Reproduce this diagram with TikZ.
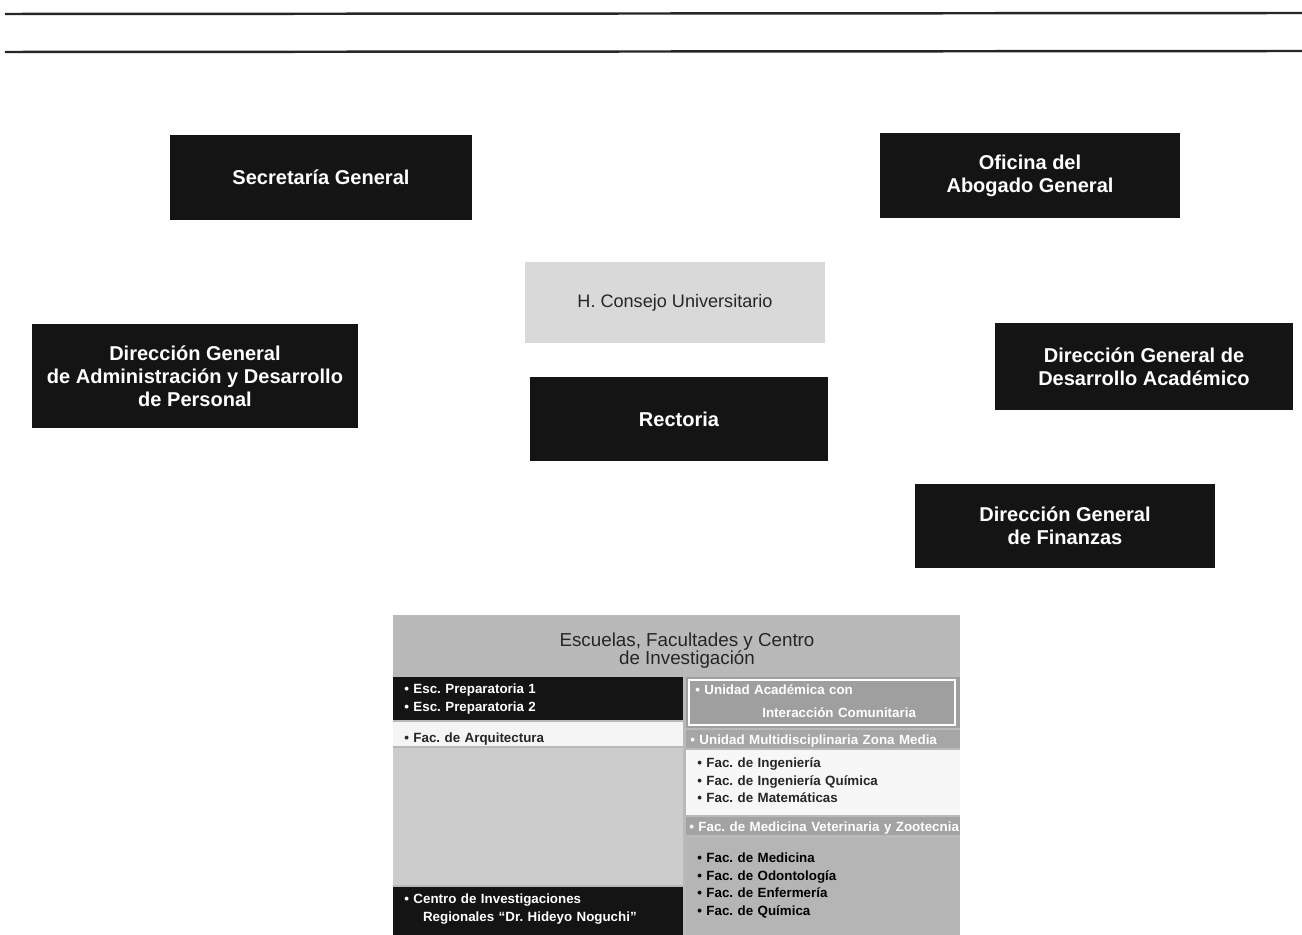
\documentclass[tikz,border=0pt]{standalone}
\usepackage{fontspec}
\setmainfont{Liberation Sans}
\usetikzlibrary{positioning}
\frenchspacing

\begin{document}
\begin{tikzpicture}[
    x = 0.02cm, y = -0.02cm, % pixel grid of the page
    node distance = -1.5pt, % list items sit close
    darkbox/.style = {
        fill = black!92,
        text = white,
        align = center,
        font = \fontsize{11.4}{13}\selectfont\bfseries
    },
    lightbox/.style = {
        fill = gray!30,
        text = black!85,
        align = center,
        font = \fontsize{10.3}{12}\selectfont
    },
    item/.style = {
        text width = 5.2cm,
        align = left,
        inner sep = 0pt,
        text height = 1.65ex,
        text depth = 0.45ex,
        minimum height = 0.35cm,
        font = \fontsize{7.6}{9.8}\selectfont\bfseries
    }
    ]

    \useasboundingbox[fill=white] (0,0) rectangle (1302,935);

    % header rules
    \draw[line width=1.4pt, black!85] (5,14) -- (1302,13);
    \draw[line width=1.4pt, black!85] (5,52) -- (1302,51);

    % upper boxes
    \node[darkbox, minimum width=6.04cm, minimum height=1.7cm] (sg) at (321,177.5) {Secretaría General};
    \node[darkbox, minimum width=6cm, minimum height=1.7cm] (oag) at (1030,175.5) {Oficina del\\Abogado General};
    \node[lightbox, minimum width=6cm, minimum height=1.62cm] (hcu) at (675,302.5) {H. Consejo Universitario};
    \node[darkbox, minimum width=6.52cm, minimum height=2.08cm] (dgadp) at (195,376) {Dirección General\\de Administración y Desarrollo\\de Personal};
    \node[darkbox, minimum width=5.96cm, minimum height=1.68cm] (rect) at (679,419) {Rectoria};
    \node[darkbox, minimum width=5.96cm, minimum height=1.74cm] (dgda) at (1144,366.5) {Dirección General de\\Desarrollo Académico};
    \node[darkbox, minimum width=6cm, minimum height=1.68cm] (dgf) at (1065,526) {Dirección General\\de Finanzas};

    % schools panel
    \begin{scope}
        \clip (393,615) rectangle (960,935);
        \fill[gray!55] (393,615) rectangle (960,935);
        \node[align=center, text=black!85, font=\fontsize{10.7}{10.4}\selectfont] (title) at (687,651) {Escuelas, Facultades y Centro\\de Investigación};

        % left column
        \fill[black!92] (393,677) rectangle (683,720);
        \fill[gray!8] (393,722) rectangle (683,746);
        \fill[gray!40] (393,748) rectangle (683,885);
        \fill[black!92] (393,887) rectangle (683,935);
        \node[item, text=white, anchor=west] (prep1) at (404,688) {• Esc. Preparatoria 1};
        \node[item, text=white, below=of prep1] (prep2) {• Esc. Preparatoria 2};
        \node[item, text=black!85, anchor=west] (arq) at (404,737) {• Fac. de Arquitectura};
        \node[item, text=white, anchor=west] (cin) at (404,898) {• Centro de Investigaciones};
        \node[item, text=white, below=of cin] (cin2) {\hspace*{1.4em}Regionales ``Dr. Hideyo Noguchi''};

        % right column
        \fill[gray!75] (686,677) rectangle (960,728);
        \draw[white, line width=0.8pt] (689,680) rectangle (955,725);
        \fill[gray!70] (686,730) rectangle (960,748);
        \fill[gray!6] (686,750) rectangle (960,815);
        \fill[gray!72] (686,817) rectangle (960,835);
        \fill[gray!58] (686,838) rectangle (960,935);
        \node[item, text=white, anchor=west] (uaic) at (695,689) {• Unidad Académica con};
        \node[item, text=white, anchor=west] (uaic2) at (762,712) {Interacción Comunitaria};
        \node[item, text=white, anchor=west, text width=6.5cm] (um) at (690,739) {• Unidad Multidisciplinaria Zona Media};
        \node[item, text=black!85, anchor=west] (ing) at (697,762) {• Fac. de Ingeniería};
        \node[item, text=black!85, below=of ing] (iq) {• Fac. de Ingeniería Química};
        \node[item, text=black!85, below=of iq] (mat) {• Fac. de Matemáticas};
        \node[item, text=white, anchor=west, text width=6.5cm] (vet) at (689,826) {• Fac. de Medicina Veterinaria y Zootecnia};
        \node[item, text=black, anchor=west] (med) at (697,857) {• Fac. de Medicina};
        \node[item, text=black, below=of med] (odo) {• Fac. de Odontología};
        \node[item, text=black, below=of odo] (enf) {• Fac. de Enfermería};
        \node[item, text=black, below=of enf] (qui) {• Fac. de Química};
    \end{scope}
\end{tikzpicture}
\end{document}
